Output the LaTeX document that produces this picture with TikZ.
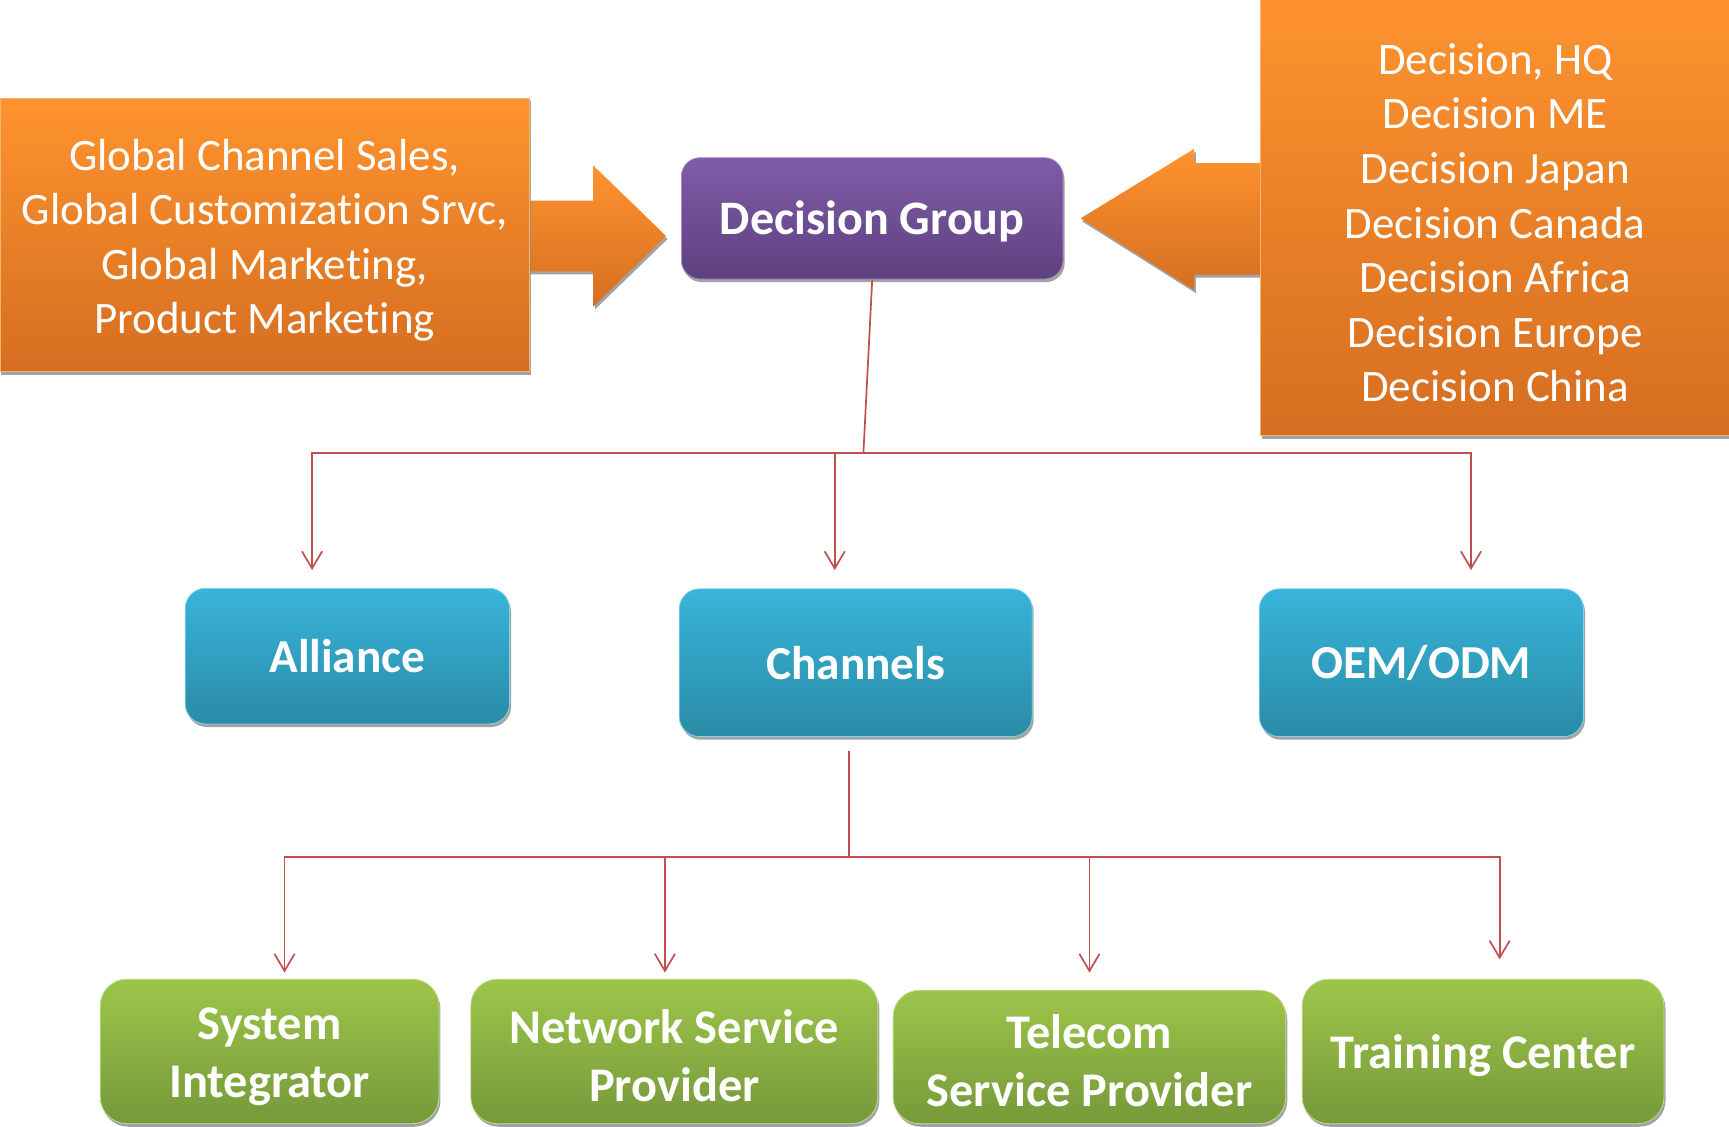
\documentclass[tikz,border=0pt]{standalone}
\usepackage{fontspec}
\setmainfont{Carlito}[Ligatures={NoCommon,NoRare,NoContextual}, Contextuals={NoAlternate}]
\usetikzlibrary{arrows.meta,shadows}
\definecolor{orangeTop}{RGB}{254,147,46}
\definecolor{orangeBot}{RGB}{213,110,33}
\definecolor{purpleTop}{RGB}{127,92,168}
\definecolor{purpleBot}{RGB}{94,65,128}
\definecolor{blueTop}{RGB}{56,180,218}
\definecolor{blueBot}{RGB}{42,139,166}
\definecolor{greenTop}{RGB}{157,197,74}
\definecolor{greenBot}{RGB}{118,153,58}
\definecolor{lineRed}{RGB}{192,80,77}
\newcommand\lift{\rule{0pt}{27pt}}

\begin{document}
\begin{tikzpicture}
	[x=0.025cm, y=-0.025cm,
	shadowed/.style={drop shadow={shadow xshift=1pt, shadow yshift=-2pt, fill=black!45, opacity=.8}},
	feeder/.style={shadowed, top color=orangeTop, bottom color=orangeBot, draw=orangeTop!70!white, line width=.5pt, text=white, align=center, inner sep=0pt, font=\fontsize{29}{35.2}\selectfont},
	group/.style={shadowed, rounded corners=12pt, top color=purpleTop, bottom color=purpleBot, draw=purpleTop!70!white, line width=.5pt, text=white, inner sep=0pt, font=\fontsize{31}{37}\selectfont\bfseries, execute at begin node=\rule{0pt}{26pt}},
	branch/.style={shadowed, rounded corners=13pt, top color=blueTop, bottom color=blueBot, draw=blueTop!60!white, line width=.5pt, text=white, inner sep=0pt, font=\fontsize{30.5}{37.5}\selectfont\bfseries},
	outlet/.style={shadowed, rounded corners=17pt, top color=greenTop, bottom color=greenBot, draw=greenTop!60!white, line width=.5pt, text=white, align=center, inner sep=0pt, font=\fontsize{31.2}{37.6}\selectfont\bfseries},
	wire/.style={draw=lineRed, line width=1.1pt},
	tip/.style={-{Straight Barb[length=11pt, width=13pt, line width=1.1pt]}}]
	\useasboundingbox (0,0) rectangle (1568,1022);

	\path[shadowed, top color=orangeTop, bottom color=orangeBot] (470,182) -- (538,182) -- (538,150) -- (604,214) -- (538,278) -- (538,246) -- (470,246) -- cycle;
	\path[shadowed, top color=orangeTop, bottom color=orangeBot] (1153,148) -- (1083,148) -- (1083,135) -- (980,198) -- (1083,263) -- (1083,249) -- (1153,249) -- cycle;

	\node[feeder, minimum width=12cm, minimum height=6.2cm] (global) at (240,213)
		{\lift Global Channel Sales,\\Global Customiza\kern0pt tion Srvc,\\Global Marke\kern0pt ting,\\Product Marke\kern0pt ting};
	\node[feeder, minimum width=10.65cm, minimum height=9.9cm] (regions) at (1356,197)
		{\lift Decision, HQ\\Decision ME\\Decision Japan\\Decision Canada\\Decision Africa\\Decision Europe\\Decision China};

	\node[group, minimum width=8.65cm, minimum height=2.75cm] (dg) at (791,198) {Decision Group};

	\node[branch, minimum width=7.35cm, minimum height=3.075cm] (alliance) at (315,595) {Alliance};
	\node[branch, minimum width=8cm, minimum height=3.35cm] (channels) at (776,601) {Channels};
	\node[branch, minimum width=7.35cm, minimum height=3.35cm] (oem) at (1289,601) {OEM/ODM};

	\node[outlet, minimum width=7.675cm, minimum height=3.275cm] (si) at (244.5,953.5) {\lift System\\Integrator};
	\node[outlet, minimum width=9.225cm, minimum height=3.275cm] (nsp) at (611.5,953.5) {\lift Network Service\\Provider};
	\node[outlet, minimum width=8.9cm, minimum height=3.025cm] (tsp) at (988,958.5) {\lift Telecom\\Service Provider};
	\node[outlet, minimum width=8.2cm, minimum height=3.275cm] (tc) at (1345,953.5) {\lift Training Center};

	\coordinate (hub1) at (783,411);
	\coordinate (allianceIn) at (283,517);
	\coordinate (channelsIn) at (757,517);
	\coordinate (oemIn) at (1334,517);
	\draw[wire] (dg.south) -- (hub1);
	\draw[wire, tip] (hub1) -| (allianceIn);
	\draw[wire, tip] (hub1) -| (channelsIn);
	\draw[wire, tip] (hub1) -| (oemIn);

	\coordinate (hub2) at (770,777);
	\coordinate (siIn) at (258,882);
	\coordinate (nspIn) at (603,882);
	\coordinate (tspIn) at (988,882);
	\coordinate (tcIn) at (1360,870);
	\draw[wire, shorten <=3.2mm] (hub2 |- channels.south) -- (hub2);
	\draw[wire, tip] (hub2) -| (siIn);
	\draw[wire, tip] (hub2) -| (nspIn);
	\draw[wire, tip] (hub2) -| (tspIn);
	\draw[wire, tip] (hub2) -| (tcIn);
\end{tikzpicture}
\end{document}
